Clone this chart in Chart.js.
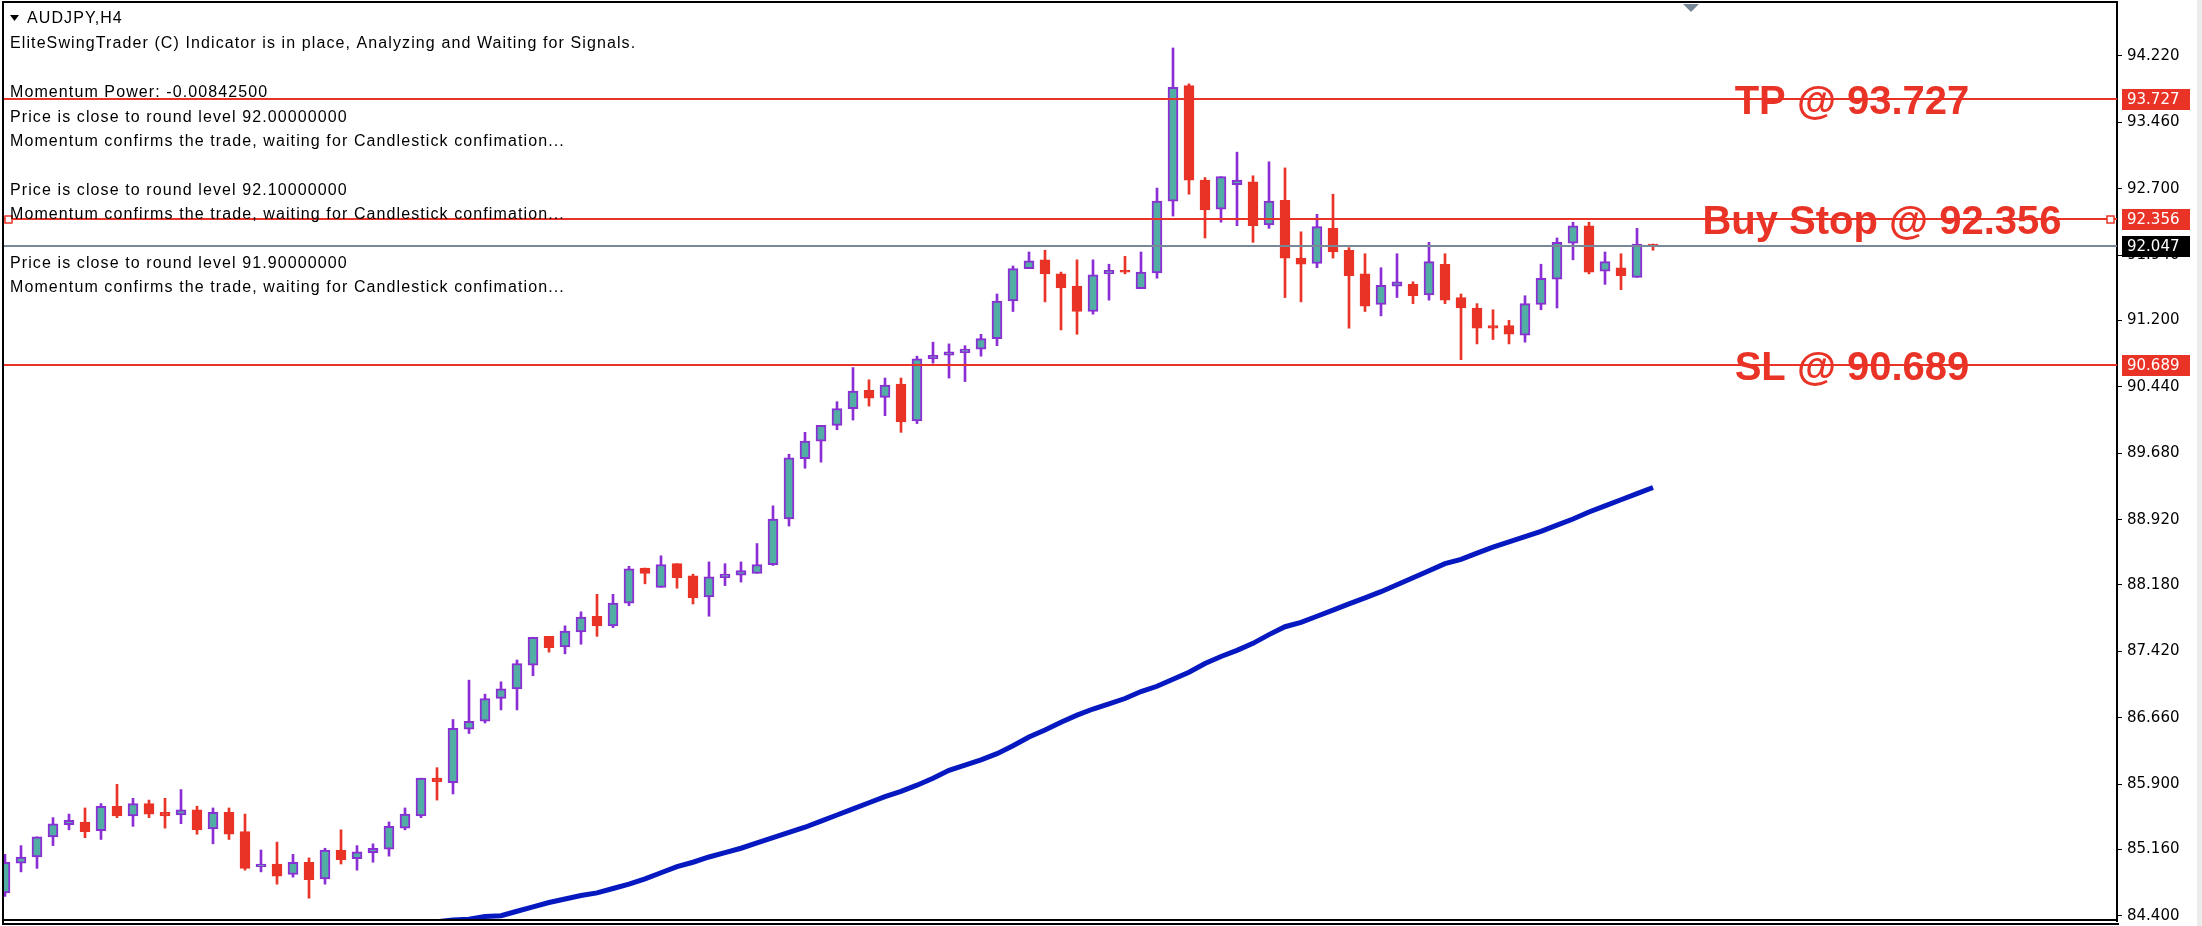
<!DOCTYPE html>
<html>
<head>
<meta charset="utf-8">
<title>AUDJPY,H4</title>
<script src="https://cdn.jsdelivr.net/npm/chart.js@4.4.1/dist/chart.umd.min.js"></script>
<style>
  html, body { margin: 0; padding: 0; background: #fff; overflow: hidden; }
  #wrap { position: relative; width: 2202px; height: 926px; }
  #strip { position: absolute; right: 0; top: 0; width: 5px; height: 926px; background: #ececec; }
</style>
</head>
<body>
<div id="wrap"><canvas id="priceChart" width="2202" height="926"></canvas><div id="strip"></div></div>
<script>
// AUDJPY H4 candles
var opens = [84.66, 85.00, 85.07, 85.30, 85.44, 85.47, 85.37, 85.65, 85.54, 85.68,
  85.58, 85.55, 85.61, 85.39, 85.58, 85.36, 84.96, 84.99, 84.87, 85.01,
  84.82, 85.15, 85.05, 85.12, 85.16, 85.40, 85.54, 85.97, 85.92, 86.53,
  86.62, 86.88, 86.99, 87.26, 87.59, 87.47, 87.64, 87.82, 87.71, 87.97,
  88.37, 88.15, 88.42, 88.28, 88.04, 88.26, 88.29, 88.31, 88.41, 88.93,
  89.62, 89.82, 90.00, 90.19, 90.40, 90.32, 90.47, 90.05, 90.76, 90.80,
  90.83, 90.87, 90.99, 91.42, 91.79, 91.89, 91.73, 91.59, 91.30, 91.73,
  91.77, 91.56, 91.74, 92.56, 93.88, 92.80, 92.47, 92.75, 92.78, 92.29,
  92.57, 91.91, 91.85, 92.25, 92.00, 91.73, 91.38, 91.59, 91.61, 91.49,
  91.84, 91.46, 91.34, 91.14, 91.14, 91.03, 91.38, 91.67, 92.08, 92.28,
  91.76, 91.80, 91.69, 92.07];
var highs = [85.10, 85.20, 85.30, 85.52, 85.56, 85.63, 85.68, 85.90, 85.74, 85.72,
  85.74, 85.84, 85.65, 85.63, 85.63, 85.56, 85.15, 85.24, 85.10, 85.06,
  85.17, 85.38, 85.20, 85.22, 85.47, 85.63, 85.97, 86.09, 86.64, 87.09,
  86.93, 87.07, 87.32, 87.58, 87.59, 87.71, 87.87, 88.07, 88.07, 88.39,
  88.37, 88.51, 88.42, 88.30, 88.44, 88.42, 88.44, 88.65, 89.08, 89.67,
  89.92, 90.00, 90.27, 90.66, 90.52, 90.54, 90.54, 90.79, 90.95, 90.93,
  90.91, 91.04, 91.50, 91.82, 91.98, 92.00, 91.75, 91.89, 91.89, 91.84,
  91.93, 91.98, 92.71, 94.31, 93.90, 92.83, 92.84, 93.12, 92.85, 93.01,
  92.94, 92.21, 92.41, 92.64, 92.03, 91.96, 91.80, 91.96, 91.64, 92.09,
  91.96, 91.50, 91.39, 91.32, 91.20, 91.48, 91.84, 92.14, 92.32, 92.32,
  91.98, 91.96, 92.25, 92.07];
var lows = [84.62, 84.90, 84.94, 85.20, 85.38, 85.29, 85.27, 85.52, 85.42, 85.52,
  85.40, 85.45, 85.33, 85.22, 85.27, 84.92, 84.90, 84.76, 84.84, 84.60,
  84.76, 84.99, 84.92, 85.01, 85.08, 85.38, 85.52, 85.72, 85.79, 86.48,
  86.60, 86.75, 86.75, 87.14, 87.41, 87.39, 87.50, 87.59, 87.69, 87.94,
  88.19, 88.15, 88.14, 87.96, 87.82, 88.17, 88.21, 88.31, 88.40, 88.85,
  89.51, 89.58, 89.95, 90.06, 90.22, 90.11, 89.92, 90.02, 90.71, 90.54,
  90.50, 90.79, 90.91, 91.30, 91.79, 91.41, 91.09, 91.04, 91.27, 91.43,
  91.73, 91.56, 91.68, 92.39, 92.64, 92.14, 92.32, 92.28, 92.09, 92.25,
  91.46, 91.41, 91.80, 91.91, 91.11, 91.30, 91.25, 91.46, 91.39, 91.43,
  91.39, 90.75, 90.93, 90.98, 90.93, 90.95, 91.32, 91.34, 91.89, 91.73,
  91.61, 91.55, 91.69, 92.00];
var closes = [85.01, 85.07, 85.30, 85.45, 85.49, 85.36, 85.65, 85.54, 85.68, 85.56,
  85.54, 85.61, 85.38, 85.58, 85.33, 84.94, 84.99, 84.85, 85.01, 84.81,
  85.15, 85.04, 85.13, 85.17, 85.42, 85.56, 85.97, 85.93, 86.54, 86.62,
  86.88, 86.99, 87.28, 87.58, 87.46, 87.65, 87.81, 87.71, 87.97, 88.36,
  88.31, 88.41, 88.26, 88.03, 88.27, 88.30, 88.34, 88.41, 88.93, 89.63,
  89.82, 90.00, 90.19, 90.39, 90.31, 90.46, 90.04, 90.76, 90.80, 90.84,
  90.87, 90.99, 91.42, 91.79, 91.88, 91.73, 91.57, 91.30, 91.72, 91.77,
  91.75, 91.75, 92.56, 93.86, 92.80, 92.46, 92.84, 92.80, 92.28, 92.56,
  91.91, 91.84, 92.27, 91.98, 91.71, 91.36, 91.60, 91.64, 91.48, 91.87,
  91.43, 91.34, 91.11, 91.11, 91.04, 91.39, 91.68, 92.09, 92.28, 91.75,
  91.87, 91.71, 92.07, 92.047];

// moving average, first visible at candle 27
var maStart = 27;
var maValues = [84.33, 84.35, 84.36, 84.39, 84.40, 84.45, 84.50, 84.55, 84.59, 84.63,
  84.66, 84.71, 84.76, 84.82, 84.89, 84.96, 85.01, 85.07, 85.12, 85.17,
  85.23, 85.29, 85.35, 85.41, 85.48, 85.55, 85.62, 85.69, 85.76, 85.82,
  85.89, 85.97, 86.06, 86.12, 86.18, 86.25, 86.34, 86.44, 86.52, 86.61,
  86.69, 86.76, 86.82, 86.88, 86.96, 87.02, 87.10, 87.18, 87.28, 87.36,
  87.43, 87.51, 87.61, 87.70, 87.75, 87.82, 87.89, 87.96, 88.03, 88.10,
  88.18, 88.26, 88.34, 88.42, 88.47, 88.54, 88.61, 88.67, 88.73, 88.79,
  88.86, 88.93, 89.01, 89.08, 89.15, 89.22, 89.29];

var yTicks = [94.220, 93.460, 92.700, 91.940, 91.200, 90.440, 89.680,
  88.920, 88.180, 87.420, 86.660, 85.900, 85.160, 84.400];

var tpLevel = 93.727;
var buyStopLevel = 92.356;
var slLevel = 90.689;
var bidLevel = 92.047;

var commentLines = [
  'EliteSwingTrader (C) Indicator is in place, Analyzing and Waiting for Signals.',
  '',
  'Momentum Power: -0.00842500',
  'Price is close to round level 92.00000000',
  'Momentum confirms the trade, waiting for Candlestick confimation...',
  '',
  'Price is close to round level 92.10000000',
  'Momentum confirms the trade, waiting for Candlestick confimation...',
  '',
  'Price is close to round level 91.90000000',
  'Momentum confirms the trade, waiting for Candlestick confimation...'
];

var RED = '#e93326', TEAL = '#52ada4', PURPLE = '#8a2fd4', BLUE = '#0618c0', GRAY = '#778899';

var bodyData = opens.map(function (o, i) { return { x: i, y: [o, closes[i]] }; });
var wickData = lows.map(function (l, i) { return { x: i, y: [l, highs[i]] }; });
var maData = maValues.map(function (v, k) { return { x: maStart + k, y: v }; });
var isBull = opens.map(function (o, i) { return closes[i] >= o; });

var overlay = {
  id: 'overlay',
  afterDraw: function (chart) {
    var ctx = chart.ctx, a = chart.chartArea, ys = chart.scales.y;
    ctx.save();

    // level lines
    function hline(v, color) {
      var y = Math.round(ys.getPixelForValue(v));
      ctx.fillStyle = color;
      ctx.fillRect(a.left, y - 1, a.right - a.left, 2);
      return y;
    }
    var yTp = hline(tpLevel, RED);
    var yBs = hline(buyStopLevel, RED);
    var ySl = hline(slLevel, RED);
    var yBid = hline(bidLevel, GRAY);

    // small squares on the pending order line
    ctx.fillStyle = '#fff';
    ctx.strokeStyle = RED;
    ctx.lineWidth = 1.5;
    ctx.fillRect(a.left + 1, yBs - 3, 7, 7);
    ctx.strokeRect(a.left + 1, yBs - 3, 7, 7);
    ctx.fillRect(a.right - 10, yBs - 3, 7, 7);
    ctx.strokeRect(a.right - 10, yBs - 3, 7, 7);

    // big labels
    ctx.fillStyle = RED;
    ctx.font = 'bold 40px "Liberation Sans", Arial, sans-serif';
    ctx.textAlign = 'center';
    ctx.textBaseline = 'alphabetic';
    ctx.fillText('TP @ ' + tpLevel.toFixed(3), 1852, yTp + 15);
    ctx.fillText('Buy Stop @ ' + buyStopLevel.toFixed(3), 1882, yBs + 15);
    ctx.fillText('SL @ ' + slLevel.toFixed(3), 1852, ySl + 15);

    // price boxes on the axis
    ctx.font = '15px "DejaVu Sans", sans-serif';
    ctx.textBaseline = 'middle';
    ctx.textAlign = 'left';
    [[tpLevel, yTp, RED], [buyStopLevel, yBs, RED], [slLevel, ySl, RED], [bidLevel, yBid, '#000']].forEach(function (b) {
      ctx.fillStyle = b[2];
      ctx.fillRect(a.right + 5, b[1] - 10, 68, 21);
      ctx.fillStyle = '#fff';
      ctx.fillText(b[0].toFixed(3), a.right + 10, b[1] + 1);
    });

    // frame
    ctx.fillStyle = '#000';
    ctx.fillRect(a.left - 2, 1, a.right - a.left + 2, 2);
    ctx.fillRect(a.left - 2, 1, 2, 922);
    ctx.fillRect(a.left - 2, 919, a.right - a.left + 2, 2);
    ctx.fillRect(a.left - 2, 923, a.right - a.left + 4, 2);

    // shift marker at the top
    ctx.fillStyle = GRAY;
    ctx.beginPath();
    ctx.moveTo(1683, 4); ctx.lineTo(1699, 4); ctx.lineTo(1691, 12); ctx.closePath();
    ctx.fill();

    // header and comment text
    ctx.fillStyle = '#000';
    ctx.beginPath();
    ctx.moveTo(10, 15); ctx.lineTo(19, 15); ctx.lineTo(14.5, 21); ctx.closePath();
    ctx.fill();
    ctx.font = '16px "Liberation Sans", Arial, sans-serif';
    ctx.letterSpacing = '1.1px';
    ctx.textAlign = 'left';
    ctx.fillText('AUDJPY,H4', 27, 19);
    commentLines.forEach(function (t, k) {
      if (t) ctx.fillText(t, 10, 44 + k * 24.4);
    });
    ctx.letterSpacing = '0px';
    ctx.restore();
  }
};

var ctx = document.getElementById('priceChart').getContext('2d');
var priceChart = new Chart(ctx, {
  type: 'bar',
  data: {
    datasets: [{
      label: 'Body',
      data: bodyData,
      grouped: false,
      order: 0,
      barThickness: 10,
      borderSkipped: false,
      backgroundColor: isBull.map(function (b) { return b ? TEAL : RED; }),
      borderColor: isBull.map(function (b) { return b ? PURPLE : RED; }),
      borderWidth: 2
    }, {
      label: 'Wick',
      data: wickData,
      grouped: false,
      order: 1,
      barThickness: 2,
      borderWidth: 0,
      backgroundColor: isBull.map(function (b) { return b ? PURPLE : RED; })
    }, {
      type: 'line',
      label: 'MA',
      data: maData,
      order: 2,
      borderColor: BLUE,
      borderWidth: 5,
      pointRadius: 0,
      tension: 0
    }]
  },
  plugins: [overlay],
  options: {
    responsive: false,
    animation: false,
    layout: { padding: { left: 4, top: 2, right: 0, bottom: 5 } },
    plugins: {
      legend: { display: false },
      tooltip: { enabled: false }
    },
    scales: {
      x: { type: 'linear', offset: false, min: -0.0625, max: 132, display: false },
      y: {
        position: 'right',
        min: 84.339,
        max: 94.835,
        afterBuildTicks: function (s) { s.ticks = yTicks.map(function (v) { return { value: v }; }); },
        afterFit: function (s) { s.width = 85; s.paddingTop = 0; s.paddingBottom = 0; },
        ticks: {
          autoSkip: false,
          color: '#000',
          padding: 5,
          font: { family: 'DejaVu Sans', size: 15 },
          callback: function (v) { return v.toFixed(3); }
        },
        grid: { drawOnChartArea: false, drawTicks: true, tickLength: 5, color: '#000' },
        border: { display: true, color: '#000', width: 2 }
      }
    }
  }
});
</script>
</body>
</html>
